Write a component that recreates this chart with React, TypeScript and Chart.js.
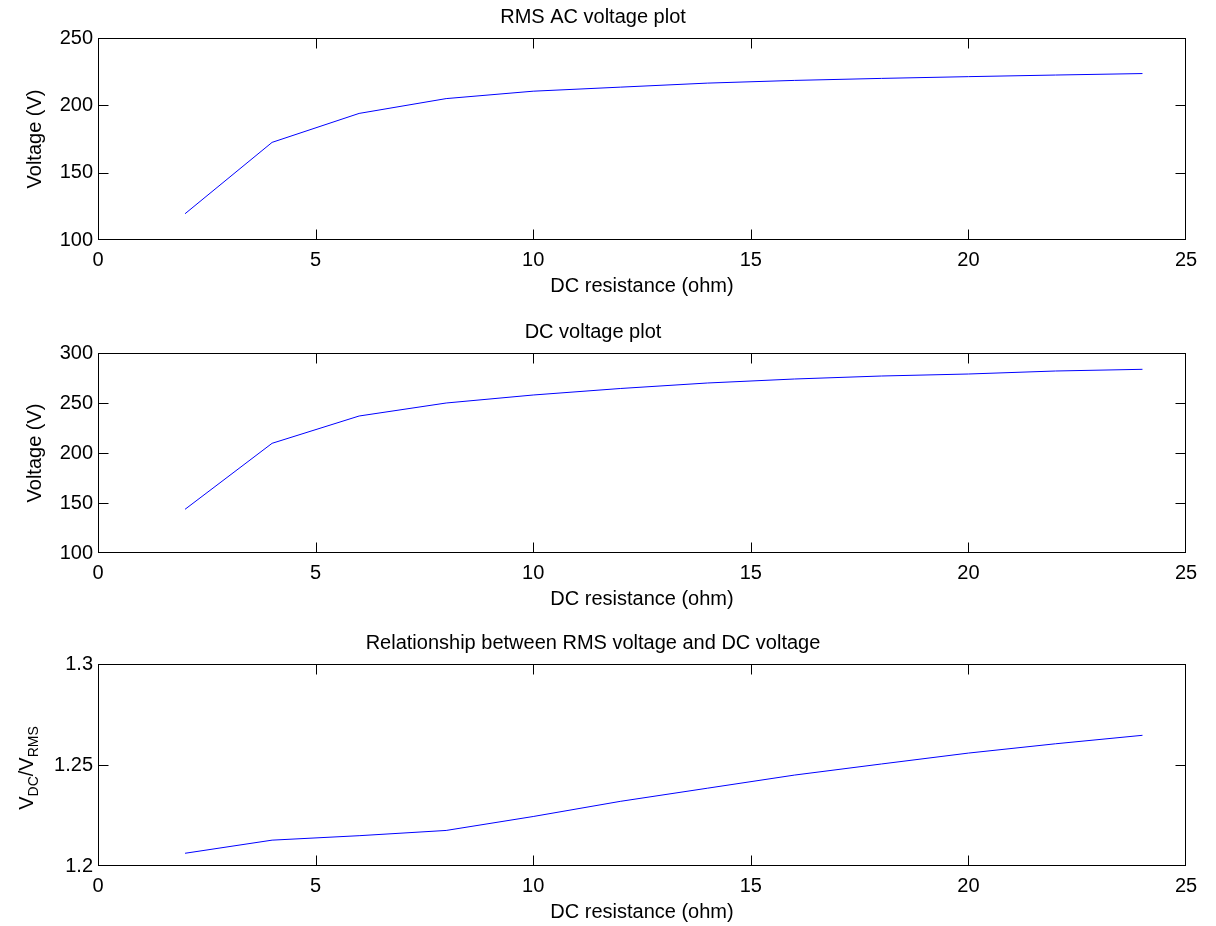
import React, { useEffect, useRef } from "react";
import { Chart, registerables } from "chart.js";

Chart.register(...registerables);

// ---- data ----
const resistance = [2, 4, 6, 8, 10, 12, 14, 16, 18, 20, 22, 24];
const rmsVoltage = [119.5, 172.5, 194, 205, 210.5, 213.5, 216.5, 218.5, 220, 221.3, 222.5, 223.6];
const dcVoltage = [143.7, 209.7, 237, 250, 258, 264.5, 270, 274, 277, 279, 282, 283.7];
const ratio = [1.2063, 1.2128, 1.215, 1.2176, 1.2245, 1.232, 1.2385, 1.245, 1.2505, 1.2559, 1.2605, 1.2647];

const xTicks = [0, 5, 10, 15, 20, 25];
const rmsTicks = [100, 150, 200, 250];
const dcTicks = [100, 150, 200, 250, 300];
const ratioTicks = [1.2, 1.25, 1.3];

const FONT = '"Liberation Sans", Arial, Helvetica, sans-serif';
const TICK_LEN = 10;

const framePlugin = {
  id: "matlabFrame",
  afterDraw(chart: any) {
    const { ctx, chartArea } = chart;
    const L = Math.round(chartArea.left) + 0.5;
    const R = Math.round(chartArea.right) - 0.5;
    const T = Math.round(chartArea.top) + 0.5;
    const B = Math.round(chartArea.bottom) - 0.5;
    const clamp = (v: number, a: number, b: number) => Math.min(Math.max(v, a), b);
    ctx.save();
    ctx.strokeStyle = "#000";
    ctx.lineWidth = 1;
    ctx.beginPath();
    const xs = chart.scales.x;
    const ys = chart.scales.y;
    xs.ticks.forEach((t: any) => {
      const px = clamp(Math.round(xs.getPixelForValue(t.value)) + 0.5, L, R);
      ctx.moveTo(px, B);
      ctx.lineTo(px, B - TICK_LEN);
      ctx.moveTo(px, T);
      ctx.lineTo(px, T + TICK_LEN);
    });
    ys.ticks.forEach((t: any) => {
      const py = clamp(Math.round(ys.getPixelForValue(t.value)) + 0.5, T, B);
      ctx.moveTo(L, py);
      ctx.lineTo(L + TICK_LEN, py);
      ctx.moveTo(R, py);
      ctx.lineTo(R - TICK_LEN, py);
    });
    ctx.stroke();
    ctx.strokeRect(L, T, R - L, B - T);
    ctx.restore();
  },
};

const ratioLabelPlugin = {
  id: "ratioLabel",
  afterDraw(chart: any) {
    const { ctx, chartArea } = chart;
    const cy = (chartArea.top + chartArea.bottom) / 2 + 3;
    const segs = [
      { t: "V", sub: false },
      { t: "DC", sub: true },
      { t: "/V", sub: false },
      { t: "RMS", sub: true },
    ];
    const mainFont = `20px ${FONT}`;
    const subFont = `14px ${FONT}`;
    ctx.save();
    ctx.translate(27, cy);
    ctx.rotate(-Math.PI / 2);
    ctx.fillStyle = "#000";
    ctx.textBaseline = "middle";
    ctx.textAlign = "left";
    let total = 0;
    const widths = segs.map((s) => {
      ctx.font = s.sub ? subFont : mainFont;
      const w = ctx.measureText(s.t).width;
      total += w;
      return w;
    });
    let x = -total / 2;
    segs.forEach((s, i) => {
      ctx.font = s.sub ? subFont : mainFont;
      ctx.fillText(s.t, x, s.sub ? 7 : 0);
      x += widths[i];
    });
    ctx.restore();
  },
};

type PanelProps = {
  top: number;
  height: number;
  title: string;
  values: number[];
  yTicks: number[];
  yMin: number;
  yMax: number;
  yTitle: string | null;
  yFormat: (v: number) => string;
};

function Panel(props: PanelProps) {
  const ref = useRef<HTMLCanvasElement | null>(null);
  useEffect(() => {
    if (!ref.current) return;
    const plugins: any[] = [framePlugin];
    if (!props.yTitle) plugins.push(ratioLabelPlugin);
    const chart = new Chart(ref.current, {
      type: "line",
      data: {
        datasets: [
          {
            data: resistance.map((r, i) => ({ x: r, y: props.values[i] })),
            borderColor: "#0000ff",
            borderWidth: 1,
            pointRadius: 0,
            fill: false,
            tension: 0,
          },
        ],
      },
      options: {
        responsive: false,
        animation: false,
        devicePixelRatio: 1,
        layout: { padding: { left: 0, right: 30, top: 0, bottom: 0 } },
        plugins: {
          legend: { display: false },
          tooltip: { enabled: false },
          title: {
            display: true,
            text: props.title,
            color: "#000",
            font: { family: FONT, size: 20, weight: "normal" },
            padding: { top: 4, bottom: 9 },
          },
        },
        scales: {
          x: {
            type: "linear",
            min: 0,
            max: 25,
            afterBuildTicks: (scale: any) => {
              scale.ticks = xTicks.map((v) => ({ value: v }));
            },
            afterFit: (scale: any) => {
              scale.height = 60;
            },
            grid: { display: false, drawTicks: false, tickLength: 0 },
            border: { display: false },
            ticks: {
              color: "#000",
              font: { family: FONT, size: 20 },
              padding: 8,
              maxRotation: 0,
              autoSkip: false,
              callback: (v: any) => String(v),
            },
            title: {
              display: true,
              text: "DC resistance (ohm)",
              color: "#000",
              font: { family: FONT, size: 20 },
              padding: { top: 2, bottom: 2 },
            },
          },
          y: {
            type: "linear",
            min: props.yMin,
            max: props.yMax,
            afterBuildTicks: (scale: any) => {
              scale.ticks = props.yTicks.map((v) => ({ value: v }));
            },
            afterFit: (scale: any) => {
              scale.width = 98;
            },
            grid: { display: false, drawTicks: false, tickLength: 0 },
            border: { display: false },
            ticks: {
              color: "#000",
              font: { family: FONT, size: 20 },
              padding: 5,
              autoSkip: false,
              callback: (v: any) => props.yFormat(Number(v)),
            },
            title: {
              display: !!props.yTitle,
              text: props.yTitle || "",
              color: "#000",
              font: { family: FONT, size: 20 },
              padding: { top: 23, bottom: 0 },
            },
          },
        },
      },
      plugins,
    } as any);
    return () => chart.destroy();
  }, []);
  return (
    <canvas
      ref={ref}
      width={1216}
      height={props.height}
      style={{ position: "absolute", left: 0, top: props.top, width: 1216, height: props.height }}
    />
  );
}

export default function App() {
  return (
    <div style={{ position: "absolute", left: 0, top: 0, width: 1216, height: 926, background: "#fff" }}>
      <Panel
        top={1}
        height={299}
        title="RMS AC voltage plot"
        values={rmsVoltage}
        yTicks={rmsTicks}
        yMin={100}
        yMax={250}
        yTitle="Voltage (V)"
        yFormat={(v) => String(v)}
      />
      <Panel
        top={316}
        height={297}
        title="DC voltage plot"
        values={dcVoltage}
        yTicks={dcTicks}
        yMin={100}
        yMax={300}
        yTitle="Voltage (V)"
        yFormat={(v) => String(v)}
      />
      <Panel
        top={627}
        height={299}
        title="Relationship between RMS voltage and DC voltage"
        values={ratio}
        yTicks={ratioTicks}
        yMin={1.2}
        yMax={1.3}
        yTitle={null}
        yFormat={(v) => String(Number(v.toFixed(2)))}
      />
    </div>
  );
}
